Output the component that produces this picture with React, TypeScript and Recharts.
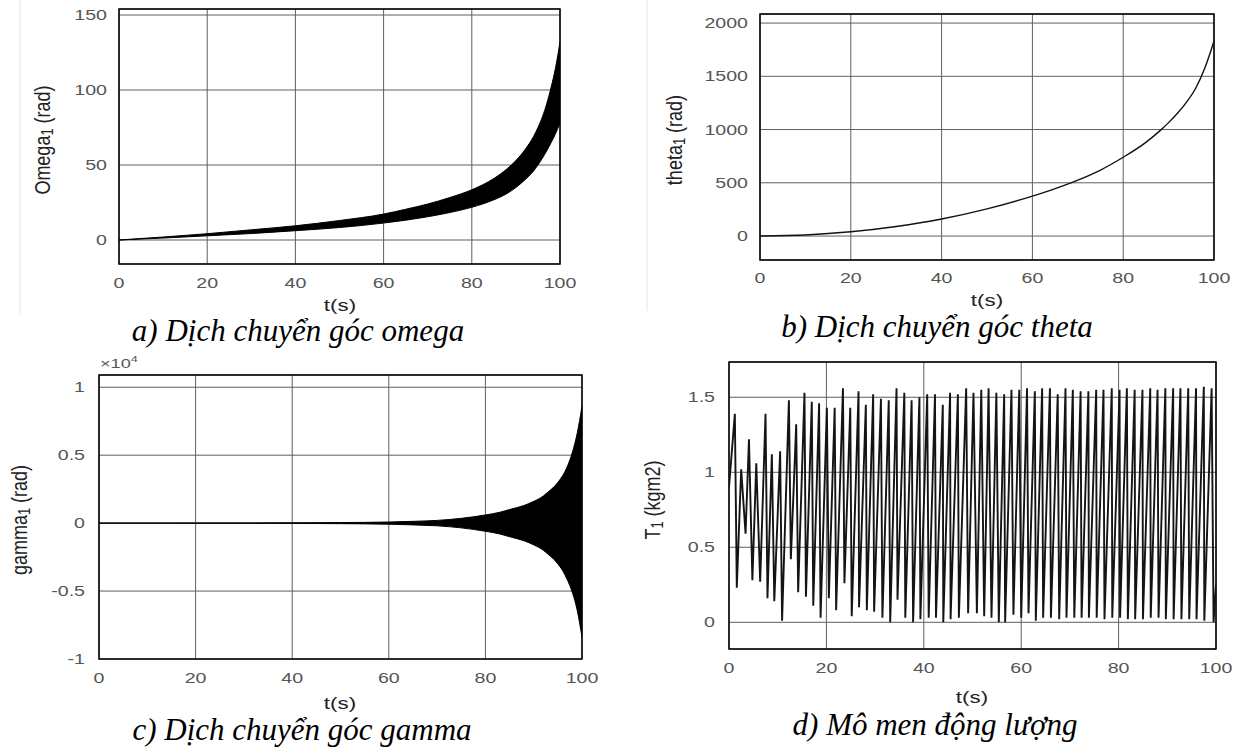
import React from 'react';
import {
  ComposedChart,
  Area,
  Line,
  XAxis,
  YAxis,
  CartesianGrid,
  ReferenceArea,
} from 'recharts';

// ---------- shared ticks ----------
const X_TICKS = [0, 20, 40, 60, 80, 100];

// ---------- a) omega (band of a fast oscillation) ----------
const T_OMEGA = [0, 10, 20, 30, 40, 50, 60, 65, 70, 75, 80, 85, 88, 90, 92, 94, 95, 96, 97, 98, 99, 100];
const OMEGA_UPPER = [0, 2, 4.2, 6.8, 9.5, 13, 17.3, 20.5, 24, 28.3, 33.5, 41, 47.5, 53, 60, 69, 75, 82, 91, 102, 115, 132];
const OMEGA_LOWER = [0, 1.3, 2.8, 4.3, 6.2, 8.3, 11.3, 13.2, 15.5, 18.3, 21.8, 26.8, 31, 35, 40, 46, 50, 54.5, 59.5, 65, 71, 78];
const OMEGA_TICKS = [0, 50, 100, 150];
const OMEGA_DOMAIN = [-16, 154];

// ---------- b) theta ----------
const T_THETA = [0, 10, 20, 30, 40, 50, 60, 65, 70, 75, 80, 85, 88, 90, 92, 94, 96, 98, 100];
const THETA = [0, 10, 40, 90, 160, 255, 375, 445, 525, 620, 740, 880, 985, 1065, 1155, 1260, 1390, 1580, 1830];
const THETA_TICKS = [0, 500, 1000, 1500, 2000];
const THETA_DOMAIN = [-225, 2085];

// ---------- c) gamma (x 10^4) ----------
const T_GAMMA = [0, 20, 40, 50, 60, 65, 70, 75, 80, 83, 85, 88, 90, 92, 93, 94, 95, 96, 97, 98, 99, 100];
const GAMMA_UPPER = [0, 0.001, 0.002, 0.004, 0.008, 0.013, 0.02, 0.035, 0.06, 0.08, 0.1, 0.13, 0.16, 0.2, 0.23, 0.26, 0.3, 0.35, 0.42, 0.52, 0.66, 0.86];
const GAMMA_LOWER = [0, -0.001, -0.002, -0.004, -0.008, -0.013, -0.02, -0.035, -0.06, -0.08, -0.1, -0.13, -0.16, -0.2, -0.23, -0.26, -0.3, -0.35, -0.42, -0.51, -0.64, -0.84];
const GAMMA_TICKS = [-1, -0.5, 0, 0.5, 1];
const GAMMA_DOMAIN = [-1, 1.09];

// ---------- d) T1 (angular momentum) ----------
const T1_START = [0, 0.9];
const T1_END = [100, 0.25];
const T1_PEAK_T = [1.2, 2.5, 4.1, 5.6, 7.5, 8.8, 10.5, 12.3, 13.8, 15.5, 17.0, 18.5, 20.1, 21.7, 23.4, 24.9, 26.6, 28.1, 29.6, 31.2, 32.8, 34.4, 36.0, 37.5, 39.1, 40.7, 42.3, 43.9, 45.4, 47.0, 48.7, 50.2, 51.8, 53.3, 54.9, 56.5, 58.0, 59.6, 61.2, 62.8, 64.3, 65.9, 67.5, 69.1, 70.6, 72.2, 73.8, 75.4, 76.9, 78.6, 80.2, 81.7, 83.3, 84.9, 86.5, 88.0, 89.6, 91.2, 92.7, 94.3, 95.9, 97.5, 99.1];
const T1_PEAK_V = [1.39, 1.02, 1.22, 1.06, 1.39, 1.12, 1.14, 1.48, 1.32, 1.53, 1.47, 1.46, 1.43, 1.43, 1.56, 1.43, 1.54, 1.45, 1.52, 1.49, 1.48, 1.56, 1.53, 1.48, 1.5, 1.52, 1.52, 1.45, 1.53, 1.52, 1.56, 1.53, 1.55, 1.56, 1.53, 1.52, 1.55, 1.55, 1.56, 1.54, 1.56, 1.56, 1.52, 1.56, 1.55, 1.54, 1.54, 1.55, 1.55, 1.56, 1.55, 1.56, 1.55, 1.55, 1.56, 1.55, 1.56, 1.56, 1.56, 1.56, 1.56, 1.57, 1.56];
const T1_TROUGH_T = [1.6, 3.4, 4.8, 6.4, 7.9, 9.3, 10.9, 12.7, 14.2, 15.8, 17.3, 18.8, 20.5, 22.0, 23.7, 25.2, 26.7, 28.3, 29.8, 31.5, 33.1, 34.6, 36.2, 37.8, 39.3, 41.0, 42.5, 44.0, 45.5, 47.2, 49.1, 50.9, 52.4, 53.9, 55.4, 56.7, 58.4, 60.0, 61.5, 63.0, 64.5, 66.1, 67.8, 69.3, 70.9, 72.4, 73.9, 75.5, 77.1, 78.7, 80.3, 81.9, 83.4, 85.0, 86.6, 88.2, 89.7, 91.3, 92.9, 94.5, 96.0, 97.6, 99.5];
const T1_TROUGH_V = [0.23, 0.59, 0.28, 0.27, 0.16, 0.14, 0.01, 0.42, 0.2, 0.17, 0.11, 0.03, 0.16, 0.08, 0.26, 0.04, 0.1, 0.08, 0.07, 0.03, 0.0, 0.15, 0.03, 0.0, 0.02, 0.03, 0.03, 0.0, 0.02, 0.03, 0.06, 0.06, 0.04, 0.03, 0.0, 0.0, 0.05, 0.03, 0.06, 0.01, 0.03, 0.03, 0.02, 0.03, 0.03, 0.03, 0.03, 0.03, 0.02, 0.03, 0.03, 0.02, 0.02, 0.02, 0.03, 0.03, 0.02, 0.02, 0.02, 0.02, 0.02, 0.01, 0.0];
const T1_TICKS = [0, 0.5, 1, 1.5];
const T1_DOMAIN = [-0.178, 1.735];

const CAPTIONS = [
  'a) Dịch chuyển góc omega',
  'b) Dịch chuyển góc theta',
  'c) Dịch chuyển góc gamma',
  'd) Mô men động lượng',
];

// ---------- data tables built from the arrays ----------
const omegaData = T_OMEGA.map((t, i) => ({ t, band: [OMEGA_LOWER[i], OMEGA_UPPER[i]] }));
const thetaData = T_THETA.map((t, i) => ({ t, v: THETA[i] }));
const gammaData = T_GAMMA.map((t, i) => ({ t, band: [GAMMA_LOWER[i], GAMMA_UPPER[i]] }));
const t1Data: { t: number; v: number }[] = [{ t: T1_START[0], v: T1_START[1] }];
T1_PEAK_T.forEach((t, i) => {
  t1Data.push({ t, v: T1_PEAK_V[i] });
  t1Data.push({ t: T1_TROUGH_T[i], v: T1_TROUGH_V[i] });
});
t1Data.push({ t: T1_END[0], v: T1_END[1] });

// ---------- styling ----------
const SX = 1.4; // the original figure is stretched horizontally
const SANS = '"Liberation Sans", Arial, Helvetica, sans-serif';
const SERIF = '"Liberation Serif", "Times New Roman", serif';
const TICK_COLOR = '#555555';

const XTick = (props: any) => {
  const { x, y, payload } = props;
  return (
    <g transform={`translate(${x},${y})`}>
      <text transform={`scale(${SX},1)`} textAnchor="middle" dy="0.71em" fontSize={14} fill={TICK_COLOR} fontFamily={SANS}>
        {String(payload.value)}
      </text>
    </g>
  );
};

const YTick = (props: any) => {
  const { x, y, payload } = props;
  return (
    <g transform={`translate(${x},${y})`}>
      <text transform={`scale(${SX},1)`} textAnchor="end" dy="0.355em" fontSize={14} fill={TICK_COLOR} fontFamily={SANS}>
        {String(payload.value)}
      </text>
    </g>
  );
};

type Box = { x0: number; x1: number; y0: number; y1: number };

function Panel(props: {
  box: Box;
  chartLeft: number;
  data: any[];
  yDomain: number[];
  yTicks: number[];
  gapX: number;
  gapY: number;
  children: React.ReactNode;
}) {
  const { box, chartLeft, data, yDomain, yTicks, gapX, gapY, children } = props;
  const MT = 12;
  const MR = 24;
  const XH = 40;
  const width = box.x1 - chartLeft + MR;
  const height = box.y1 - box.y0 + MT + XH;
  return (
    <div style={{ position: 'absolute', left: chartLeft, top: box.y0 - MT }}>
      <ComposedChart width={width} height={height} data={data} margin={{ top: MT, right: MR, bottom: 0, left: 0 }}>
        <CartesianGrid stroke="#5e5e5e" strokeWidth={1} />
        <XAxis
          dataKey="t"
          type="number"
          domain={[0, 100]}
          ticks={X_TICKS}
          interval={0}
          tick={(p: any) => <XTick {...p} />}
          tickLine={false}
          axisLine={false}
          tickSize={0}
          tickMargin={gapX}
          height={XH}
          allowDataOverflow
        />
        <YAxis
          type="number"
          domain={yDomain as any}
          ticks={yTicks}
          interval={0}
          tick={(p: any) => <YTick {...p} />}
          tickLine={false}
          axisLine={false}
          tickSize={0}
          tickMargin={gapY}
          width={box.x0 - chartLeft}
          allowDataOverflow
        />
        {children}
        <ReferenceArea
          x1={0}
          x2={100}
          y1={yDomain[0]}
          y2={yDomain[1]}
          fill="none"
          stroke="#000"
          strokeWidth={1.5}
          ifOverflow="visible"
        />
      </ComposedChart>
    </div>
  );
}

const BOX_A: Box = { x0: 119, x1: 560, y0: 9, y1: 264 };
const BOX_B: Box = { x0: 760, x1: 1214, y0: 14, y1: 260 };
const BOX_C: Box = { x0: 99, x1: 582, y0: 375, y1: 659 };
const BOX_D: Box = { x0: 729, x1: 1216, y0: 362, y1: 649 };

function YLabel(props: { cx: number; cy: number; main: string; sub: string; rest: string }) {
  const { cx, cy, main, sub, rest } = props;
  return (
    <text
      transform={`translate(${cx},${cy}) scale(1.2,1) rotate(-90)`}
      textAnchor="middle"
      dominantBaseline="central"
      fontSize={18}
      fill="#222"
      fontFamily={SANS}
    >
      {main}
      <tspan dy={5} fontSize={13}>
        {sub}
      </tspan>
      <tspan dy={-5}>{rest}</tspan>
    </text>
  );
}

function XLabel(props: { cx: number; cy: number }) {
  return (
    <text
      transform={`translate(${props.cx},${props.cy}) scale(${SX},1)`}
      textAnchor="middle"
      dominantBaseline="central"
      fontSize={16}
      fill="#222"
      fontFamily={SANS}
    >
      t(s)
    </text>
  );
}

function Caption(props: { cx: number; y: number; text: string }) {
  return (
    <text x={props.cx} y={props.y} textAnchor="middle" fontSize={31} fontStyle="italic" fill="#000" fontFamily={SERIF}>
      {props.text}
    </text>
  );
}

export default function App() {
  return (
    <div
      style={{
        position: 'absolute',
        left: 0,
        top: 0,
        width: 1242,
        height: 749,
        overflow: 'hidden',
        background: '#fff',
      }}
    >
      <Panel box={BOX_A} chartLeft={0} data={omegaData} yDomain={OMEGA_DOMAIN} yTicks={OMEGA_TICKS} gapX={14} gapY={12}>
        <Area dataKey="band" type="monotone" fill="#000" fillOpacity={1} stroke="#000" strokeWidth={1} isAnimationActive={false} dot={false} activeDot={false} />
      </Panel>
      <Panel box={BOX_B} chartLeft={630} data={thetaData} yDomain={THETA_DOMAIN} yTicks={THETA_TICKS} gapX={13} gapY={12}>
        <Line dataKey="v" type="monotone" stroke="#111" strokeWidth={1.4} dot={false} activeDot={false} isAnimationActive={false} />
      </Panel>
      <Panel box={BOX_C} chartLeft={0} data={gammaData} yDomain={GAMMA_DOMAIN} yTicks={GAMMA_TICKS} gapX={14} gapY={14}>
        <Area dataKey="band" type="monotone" fill="#000" fillOpacity={1} stroke="#000" strokeWidth={1} isAnimationActive={false} dot={false} activeDot={false} />
      </Panel>
      <Panel box={BOX_D} chartLeft={620} data={t1Data} yDomain={T1_DOMAIN} yTicks={T1_TICKS} gapX={14} gapY={14}>
        <Line dataKey="v" type="linear" stroke="#141414" strokeWidth={1.9} dot={false} activeDot={false} isAnimationActive={false} />
      </Panel>

      <svg width={1242} height={749} style={{ position: 'absolute', left: 0, top: 0, pointerEvents: 'none' }}>
        <line x1={20} y1={0} x2={20} y2={315} stroke="#e6e6e6" strokeWidth={1} />
        <line x1={647} y1={0} x2={647} y2={311} stroke="#e6e6e6" strokeWidth={1} />

        <YLabel cx={42} cy={140} main="Omega" sub="1" rest=" (rad)" />
        <YLabel cx={674} cy={140} main="theta" sub="1" rest=" (rad)" />
        <YLabel cx={19} cy={520} main="gamma" sub="1" rest=" (rad)" />
        <YLabel cx={652} cy={500} main="T" sub="1" rest=" (kgm2)" />

        <text transform={`translate(100,368) scale(${SX},1)`} fontSize={13} fill={TICK_COLOR} fontFamily={SANS}>
          ×10
          <tspan dy={-6} fontSize={9}>
            4
          </tspan>
        </text>

        <XLabel cx={340} cy={305} />
        <XLabel cx={987} cy={300} />
        <XLabel cx={340} cy={703} />
        <XLabel cx={972} cy={697} />

        <rect x={0} y={713} width={640} height={36} fill="#fff" />

        <Caption cx={298} y={341} text={CAPTIONS[0]} />
        <Caption cx={937} y={337} text={CAPTIONS[1]} />
        <Caption cx={302} y={740} text={CAPTIONS[2]} />
        <Caption cx={935} y={735} text={CAPTIONS[3]} />
      </svg>
    </div>
  );
}
